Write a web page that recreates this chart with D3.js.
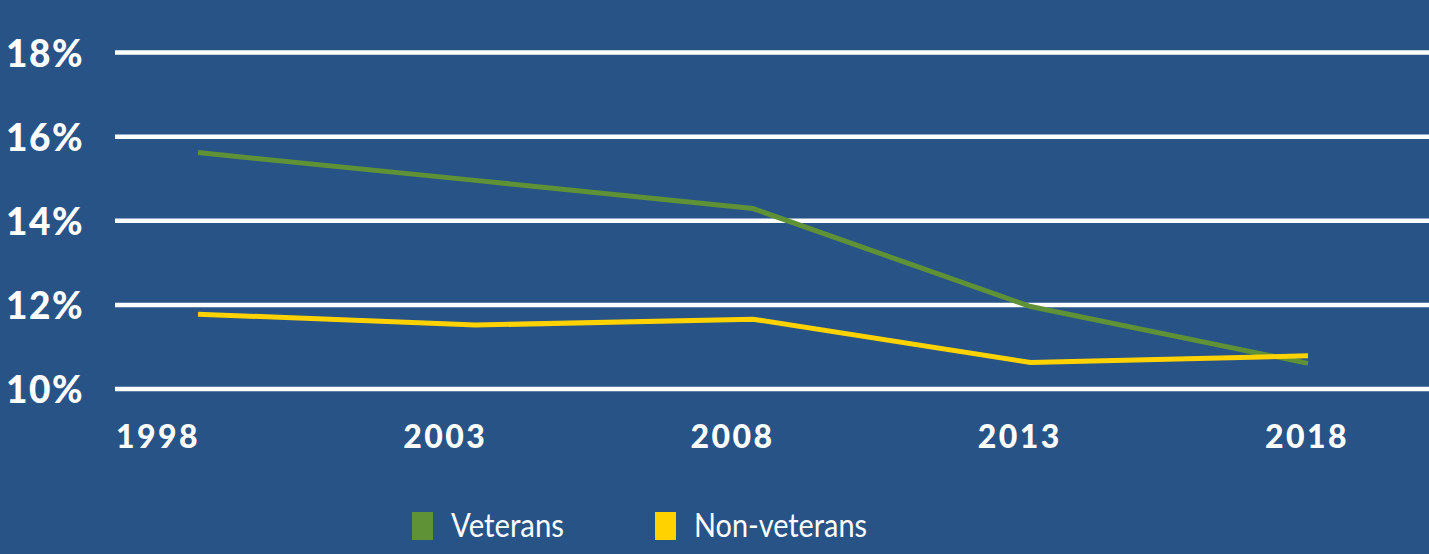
<!DOCTYPE html>
<html><head><meta charset="utf-8">
<script src="https://cdn.jsdelivr.net/npm/d3@7"></script>
<style>
html,body{margin:0;padding:0;background:#275387;}
svg{display:block;}
</style></head>
<body>
<svg id="chart" width="1429" height="554"></svg>
<script>
const years = [1998, 2003, 2008, 2013, 2018];
const yearLabels = ["1998", "2003", "2008", "2013", "2018"];
const veterans = [15.62, 14.96, 14.29, 11.96, 10.61];
const nonVeterans = [11.78, 11.52, 11.66, 10.63, 10.79];
const yTicks = [10, 12, 14, 16, 18];
const seriesNames = ["Veterans", "Non-veterans"];
const seriesColors = ["#5f9136", "#ffd200"];

const W = 1429, H = 554;
const svg = d3.select("#chart");
svg.append("rect").attr("width", W).attr("height", H).attr("fill", "#275387");

const y = d3.scaleLinear().domain([10, 18]).range([389, 52.5]);
const xLine = d3.scaleLinear().domain([1998, 2018]).range([198, 1308]);
const xLabel = d3.scalePoint().domain(yearLabels).range([158, 1307]);

// gridlines
svg.append("g").selectAll("line").data(yTicks).join("line")
  .attr("x1", 115).attr("x2", W)
  .attr("y1", d => y(d)).attr("y2", d => y(d))
  .attr("stroke", "#ffffff").attr("stroke-width", 4.5);

// y labels
svg.append("g").selectAll("text").data(yTicks).join("text")
  .attr("x", 84).attr("y", d => y(d) + 14)
  .attr("text-anchor", "end")
  .attr("font-family", "Lato, 'Open Sans', sans-serif")
  .attr("font-weight", 900).attr("font-size", 37)
  .attr("letter-spacing", 1.5)
  .attr("fill", "#ffffff")
  .text(d => d + "%");

// x labels
svg.append("g").selectAll("text").data(yearLabels).join("text")
  .attr("x", d => xLabel(d)).attr("y", 448)
  .attr("text-anchor", "middle")
  .attr("font-family", "Lato, 'Open Sans', sans-serif")
  .attr("font-weight", 900).attr("font-size", 32)
  .attr("letter-spacing", 2.5)
  .attr("fill", "#ffffff")
  .text(d => d);

const line = d3.line().x((d, i) => xLine(years[i])).y(d => y(d));
[veterans, nonVeterans].forEach((s, k) => {
  svg.append("path").datum(s)
    .attr("d", line)
    .attr("fill", "none")
    .attr("stroke", seriesColors[k])
    .attr("stroke-width", 5);
});

// legend
const legendX = [412, 655];
const legendW = [113, 173];
const lg = svg.append("g");
seriesNames.forEach((n, k) => {
  lg.append("rect").attr("x", legendX[k]).attr("y", 512).attr("width", 21).attr("height", 28)
    .attr("fill", seriesColors[k]);
  lg.append("text").attr("x", legendX[k] + 39).attr("y", 537)
    .attr("font-family", "Lato, 'Open Sans', sans-serif")
    .attr("font-size", 32).attr("fill", "#ffffff")
    .attr("textLength", legendW[k]).attr("lengthAdjust", "spacingAndGlyphs")
    .text(n);
});
</script>
</body></html>
